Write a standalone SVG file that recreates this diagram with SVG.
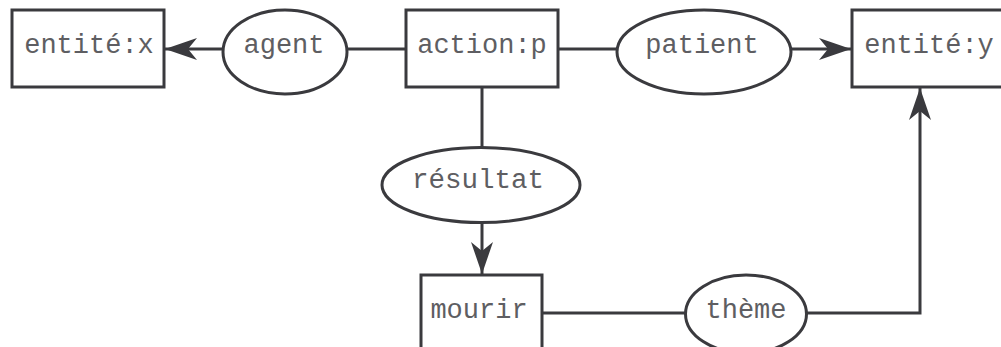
<svg xmlns="http://www.w3.org/2000/svg" width="1001" height="347" viewBox="0 0 1001 347">
  <style>
    .box { fill: #ffffff; stroke: #3a3a3e; stroke-width: 3; }
    .rel { fill: #ffffff; stroke: #3a3a3e; stroke-width: 3; }
    .edge { fill: none; stroke: #3a3a3e; stroke-width: 3; }
    .label { font-family: "Liberation Mono", "DejaVu Sans Mono", monospace; font-size: 27px; fill: #5e5e62; text-anchor: middle; }
  </style>
  <defs>
    <marker id="head" viewBox="-34 -13 36 26" refX="0" refY="0" markerWidth="36" markerHeight="26" markerUnits="userSpaceOnUse" orient="auto">
      <path d="M0,0 L-32,-11 L-23,0 L-32,11 Z" fill="#3a3a3e"/>
    </marker>
  </defs>

  <rect width="1001" height="347" fill="#ffffff"/>

  <!-- connectors -->
  <g id="connectors">
    <line class="edge" x1="223" y1="49" x2="165" y2="49" marker-end="url(#head)"/>
    <line class="edge" x1="347" y1="49" x2="406" y2="49"/>
    <line class="edge" x1="558" y1="49" x2="617" y2="49"/>
    <line class="edge" x1="792" y1="49" x2="851" y2="49" marker-end="url(#head)"/>
    <line class="edge" x1="482" y1="87" x2="482" y2="147"/>
    <line class="edge" x1="482" y1="222" x2="482" y2="274" marker-end="url(#head)"/>
    <line class="edge" x1="542" y1="313" x2="686" y2="313"/>
    <polyline class="edge" points="807,313 920,313 920,88" marker-end="url(#head)"/>
  </g>

  <g id="entite-x">
    <rect class="box" x="12" y="10" width="152" height="77"/>
    <text class="label" x="89" y="53">entité:x</text>
  </g>

  <g id="agent">
    <ellipse class="rel" cx="285" cy="52" rx="62" ry="42"/>
    <text class="label" x="284" y="53">agent</text>
  </g>

  <g id="action-p">
    <rect class="box" x="406" y="10" width="152" height="77"/>
    <text class="label" x="482" y="53">action:p</text>
  </g>

  <g id="patient">
    <ellipse class="rel" cx="704" cy="52" rx="87" ry="42"/>
    <text class="label" x="702" y="53">patient</text>
  </g>

  <g id="entite-y">
    <rect class="box" x="852" y="10" width="152" height="77"/>
    <text class="label" x="929" y="53">entité:y</text>
  </g>

  <g id="resultat">
    <ellipse class="rel" cx="481" cy="185" rx="99" ry="37.5"/>
    <text class="label" x="478" y="188" textLength="132" lengthAdjust="spacingAndGlyphs">résultat</text>
  </g>

  <g id="mourir">
    <rect class="box" x="421" y="275" width="121" height="77"/>
    <text class="label" x="479" y="318">mourir</text>
  </g>

  <g id="theme">
    <ellipse class="rel" cx="746" cy="314" rx="60.5" ry="39"/>
    <text class="label" x="746" y="318">thème</text>
  </g>
</svg>
